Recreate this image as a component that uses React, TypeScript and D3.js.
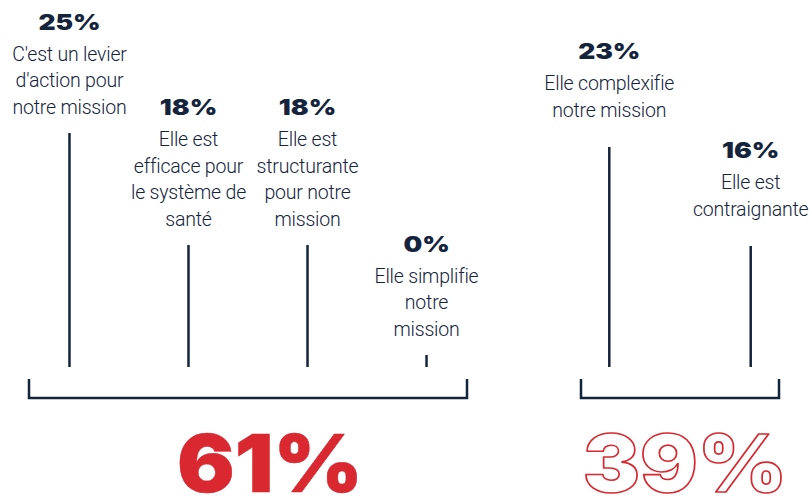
import React from "react";
import * as d3 from "d3";

// ---- data ----
const values: number[] = [25, 18, 18, 0, 23, 16];
const groupOf: string[] = ["pos", "pos", "pos", "pos", "neg", "neg"];
const labelLines: string[][] = [
  ["C'est un levier", "d'action pour", "notre mission"],
  ["Elle est", "efficace pour", "le système de", "santé"],
  ["Elle est", "structurante", "pour notre", "mission"],
  ["Elle simplifie", "notre", "mission"],
  ["Elle complexifie", "notre mission"],
  ["Elle est", "contraignante"],
];
const groupKeys: string[] = ["pos", "neg"];

// ---- layout / style ----
const W = 809;
const H = 499;
const NAVY = "#15243d";
const RED = "#d9282f";
const baseY = 367;
const bracketTop = 379;
const bracketBottom = 398;
const groupRange: Record<string, [number, number]> = { pos: [29, 467], neg: [581, 779] };
const groupPad: Record<string, number> = { pos: 0.34, neg: 0.2 };
const labelGap: Record<string, number> = { pos: 19, neg: 30 };
const totalDx: Record<string, number> = { pos: 22, neg: 5 };
const lineH = 26.7;
const pctGap = 31;

const stemScale = d3
  .scaleLinear()
  .domain([0, 16, 18, 23, 25])
  .range([12, 121, 122, 220, 234]);

export default function App() {
  const xScales: Record<string, d3.ScalePoint<string>> = {};
  groupKeys.forEach((g) => {
    const idx = values.map((_, i) => i).filter((i) => groupOf[i] === g).map(String);
    xScales[g] = d3.scalePoint<string>().domain(idx).range(groupRange[g]).padding(groupPad[g]);
  });

  const items = values.map((v, i) => {
    const g = groupOf[i];
    const x = xScales[g](String(i)) as number;
    const top = baseY - stemScale(v);
    const lines = labelLines[i];
    const last = top - labelGap[g];
    const first = last - (lines.length - 1) * lineH;
    const pctY = first - pctGap;
    return { v, i, g, x, top, lines, first, pctY };
  });

  const totals = groupKeys.map((g) => ({
    g,
    total: d3.sum(values.filter((_, i) => groupOf[i] === g)),
    x0: groupRange[g][0],
    x1: groupRange[g][1],
  }));

  return (
    <svg
      width={W}
      height={H}
      style={{ position: "absolute", left: 0, top: 0, background: "#fff" }}
    >
      {items.map((d) => (
        <g key={d.i}>
          <line x1={d.x} x2={d.x} y1={d.top} y2={baseY} stroke={NAVY} strokeWidth={2.5} />
          <text
            transform={`translate(${d.x},${d.pctY}) scale(1.2,1)`}
            textAnchor="middle"
            fontFamily="Inter"
            fontWeight={900}
            fontSize={22}
            fill={NAVY}
          >
            {`${d.v}%`}
          </text>
          {d.lines.map((ln, k) => (
            <text
              key={k}
              x={d.x}
              y={d.first + k * lineH}
              textAnchor="middle"
              fontFamily="Roboto"
              fontWeight={300}
              fontSize={19.5}
              letterSpacing={-0.2}
              fill={NAVY}
            >
              {ln}
            </text>
          ))}
        </g>
      ))}
      {totals.map((t) => (
        <g key={t.g}>
          <path
            d={`M${t.x0},${bracketTop}V${bracketBottom}H${t.x1}V${bracketTop}`}
            fill="none"
            stroke={NAVY}
            strokeWidth={2.5}
          />
          <text
            transform={`translate(${(t.x0 + t.x1) / 2 + totalDx[t.g]},492) scale(1.07,1)`}
            textAnchor="middle"
            fontFamily="Inter"
            fontWeight={900}
            fontSize={80}
            fill={t.g === "pos" ? RED : "#fff"}
            stroke={RED}
            strokeWidth={t.g === "pos" ? 0.5 : 1.6}
            strokeLinejoin="round"
          >
            {`${t.total}%`}
          </text>
        </g>
      ))}
    </svg>
  );
}
